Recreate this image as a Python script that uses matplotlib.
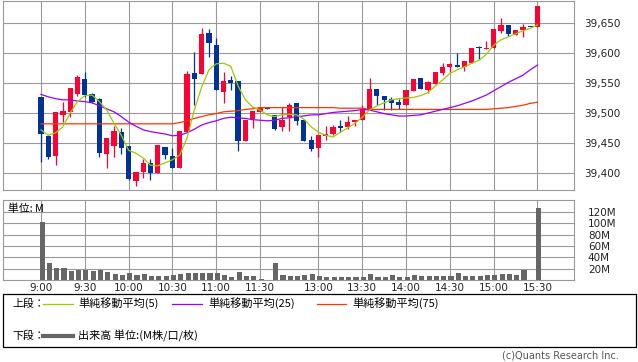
import numpy as np
import matplotlib
matplotlib.use("Agg")
import matplotlib.pyplot as plt
from matplotlib.lines import Line2D
from matplotlib.patches import Rectangle

W, H = 638, 362

# x axis
tick_labels = ["9:00", "9:30", "10:00", "10:30", "11:00", "11:30",
               "13:00", "13:30", "14:00", "14:30", "15:00", "15:30"]
tick_slots = [0, 6, 12, 18, 24, 30, 38, 44, 50, 56, 62, 68]

# 5 min candles
opens = [39527, 39462, 39428, 39497, 39502, 39532, 39557, 39532, 39523, 39432,
         39445, 39468, 39445, 39387, 39402, 39417, 39400, 39443, 39428, 39408,
         39468, 39567, 39565, 39633, 39613, 39535, 39555, 39553, 39453, 39490,
         39502, 39509, 39496, 39476, 39494, 39516, 39488, 39455, 39441, 39462,
         39465, 39478, 39477, 39485, 39489, 39507, 39540, 39528, 39523, 39519,
         39513, 39537, 39559, 39538, 39548, 39566, 39576, 39580, 39577, 39584,
         39610, 39607, 39609, 39637, 39647, 39630, 39639, 39644, 39643]
highs = [39527, 39463, 39502, 39518, 39542, 39563, 39568, 39533, 39525, 39458,
         39478, 39475, 39445, 39402, 39423, 39423, 39447, 39443, 39442, 39470,
         39570, 39602, 39642, 39640, 39625, 39568, 39562, 39553, 39488, 39503,
         39508, 39509, 39496, 39510, 39517, 39517, 39488, 39462, 39463, 39478,
         39480, 39488, 39495, 39489, 39513, 39558, 39540, 39528, 39527, 39524,
         39538, 39557, 39559, 39554, 39569, 39583, 39583, 39600, 39586, 39609,
         39612, 39620, 39640, 39659, 39647, 39638, 39648, 39644, 39679]
lows = [39418, 39423, 39413, 39485, 39493, 39528, 39527, 39517, 39427, 39408,
        39427, 39432, 39388, 39378, 39392, 39388, 39400, 39423, 39408, 39408,
        39468, 39513, 39565, 39593, 39538, 39517, 39538, 39437, 39453, 39475,
        39502, 39507, 39472, 39470, 39470, 39480, 39454, 39436, 39426, 39455,
        39463, 39469, 39473, 39478, 39488, 39507, 39513, 39505, 39505, 39506,
        39513, 39537, 39540, 39534, 39548, 39563, 39569, 39576, 39570, 39584,
        39590, 39607, 39609, 39634, 39629, 39630, 39626, 39643, 39643]
closes = [39465, 39427, 39502, 39503, 39542, 39560, 39530, 39518, 39433, 39458,
          39470, 39442, 39390, 39402, 39417, 39400, 39447, 39430, 39408, 39470,
          39565, 39557, 39632, 39617, 39538, 39553, 39550, 39453, 39488, 39503,
          39508, 39507, 39474, 39488, 39513, 39486, 39454, 39440, 39463, 39465,
          39476, 39475, 39485, 39489, 39505, 39540, 39528, 39522, 39517, 39513,
          39538, 39557, 39540, 39552, 39569, 39576, 39582, 39576, 39586, 39609,
          39608, 39609, 39640, 39647, 39631, 39638, 39643, 39643, 39679]

# moving averages as drawn
sma5 = [39472, 39463, 39467, 39477, 39500, 39519, 39529, 39530, 39519, 39505,
        39483, 39463, 39438, 39433, 39425, 39413, 39412, 39417, 39422, 39430,
        39458, 39505, 39543, 39572, 39582, 39583, 39578, 39545, 39522, 39510,
        39505, 39497, 39494, 39497, 39498, 39497, 39490, 39477, 39468, 39463,
        39460, 39468, 39475, 39483, 39493, 39505, 39512, 39517, 39522, 39524,
        39525, 39526, 39529, 39534, 39545, 39555, 39566, 39572, 39577, 39583,
        39588, 39598, 39613, 39622, 39627, 39632, 39637, 39641, 39647]
sma25 = [39531, 39527, 39524, 39522, 39522, 39520, 39519, 39517, 39512, 39507,
         39502, 39494, 39485, 39478, 39472, 39469, 39467, 39465, 39462, 39463,
         39467, 39473, 39480, 39484, 39487, 39491, 39493, 39492, 39491, 39489,
         39488, 39487, 39488, 39491, 39492, 39494, 39495, 39497, 39497, 39499,
         39501, 39502, 39503, 39504, 39506, 39505, 39502, 39499, 39497, 39495,
         39495, 39496, 39497, 39500, 39503, 39506, 39509, 39512, 39516, 39520,
         39525, 39530, 39537, 39544, 39551, 39557, 39563, 39572, 39580]
sma75 = [39482, 39482, 39482, 39482, 39482, 39482, 39482, 39482, 39482, 39482,
         39482, 39482, 39482, 39482, 39482, 39482, 39482, 39482, 39482, 39484,
         39487, 39491, 39494, 39497, 39499, 39502, 39503, 39504, 39506, 39507,
         39509, 39509, 39509, 39509, 39509, 39509, 39509, 39509, 39509, 39509,
         39509, 39508, 39508, 39508, 39508, 39506, 39506, 39506, 39506, 39506,
         39506, 39506, 39506, 39506, 39506, 39506, 39506, 39506, 39506, 39506,
         39506, 39506, 39507, 39508, 39509, 39511, 39513, 39516, 39518]

# volume, M shares
volume = [101.5, 31, 22, 22, 17, 18.7, 18.7, 17, 18.7, 15.2,
          11.1, 9.4, 12.9, 9.4, 11.1, 7.6, 7.6, 7.6, 9.4, 11.1,
          13.4, 13.4, 12.3, 12.3, 13.4, 9.4, 5.8, 14.6, 7.6, 7.6,
          2.3, 0, 31, 9.4, 7.6, 7.6, 9.4, 11.1, 7.6, 5.3,
          5.3, 5.3, 5.3, 5.3, 5.3, 11.1, 5.3, 5.3, 9.4, 5.3,
          5.3, 9.4, 7.6, 7.6, 7.6, 7.6, 7.6, 12.9, 7.6, 7.6,
          7.6, 9.4, 9.4, 11.1, 11.1, 9.4, 18.2, 0.5, 127]

price_ticks = [39400, 39450, 39500, 39550, 39600, 39650]
vol_ticks = [20, 40, 60, 80, 100, 120]

RED = "#ff0033"
BLUE = "#003399"
GRID = "#999999"
JP = ["Noto Sans CJK JP", "DejaVu Sans"]


def px(x0, y0, w, h):
    # pixel box (top-left origin) -> figure fraction
    return [x0 / W, 1 - (y0 + h) / H, w / W, h / H]


fig = plt.figure(figsize=(W / 100, H / 100), dpi=100)
ax = fig.add_axes(px(3, 0.7, 571, 189.3))
axv = fig.add_axes(px(3, 200, 571, 80.3))

x = np.arange(len(closes))
o = np.array(opens)
c = np.array(closes)
colors = np.where(c >= o, RED, BLUE)

ax.vlines(x, lows, highs, colors=colors, lw=0.9, zorder=3)
ax.bar(x, np.maximum(np.abs(c - o), 1.5), bottom=np.minimum(o, c),
       width=0.72, color=colors, lw=0, zorder=3)
ax.plot(x, sma75, color="#ff3300", lw=0.9, zorder=4)
ax.plot(x, sma25, color="#9900ff", lw=0.9, zorder=4)
ax.plot(x, sma5, color="#99cc00", lw=0.9, zorder=4)

axv.bar(x + 0.15, volume, width=0.7, color="#666666", lw=0, zorder=3)

for a in (ax, axv):
    a.set_xlim(-5.2, 73.0)
    a.set_xticks(tick_slots)
    a.grid(True, color=GRID, lw=0.8)
    a.set_axisbelow(True)
    for s in a.spines.values():
        s.set_color(GRID)
        s.set_linewidth(0.8)
    a.yaxis.tick_right()
    a.tick_params(length=0, labelsize=7.5, colors="#222222")

ax.set_ylim(39371.7, 39687.2)
ax.set_yticks(price_ticks)
ax.set_yticklabels([f"{v:,}" for v in price_ticks])
ax.tick_params(axis="y", pad=7.5)
ax.set_xticklabels([])

axv.set_ylim(0, 140.5)
axv.set_yticks(vol_ticks)
axv.set_yticklabels([f"{v}M" for v in vol_ticks])
axv.tick_params(axis="y", pad=10)
axv.set_xticklabels(tick_labels)
axv.tick_params(axis="x", pad=2)

fig.text(8 / W, 1 - 209 / H, "単位: M", family=JP, fontsize=7.8, va="center")

# legend box
fig.patches.append(Rectangle((3 / W, 1 - 346.7 / H), 633 / W, 52.7 / H,
                             transform=fig.transFigure, fill=False,
                             edgecolor="black", lw=0.9))
row1 = 1 - 303.5 / H
row2 = 1 - 335.5 / H
fig.text(12 / W, row1, "上段：", family=JP, fontsize=7.8, va="center")
fig.text(12 / W, row2, "下段：", family=JP, fontsize=7.8, va="center")
legend_items = [(43, 73, "#99cc00", 78, "単純移動平均(5)"),
                (172, 202, "#9900ff", 208, "単純移動平均(25)"),
                (317, 346, "#ff3300", 352, "単純移動平均(75)")]
for x0, x1, col, tx, label in legend_items:
    fig.add_artist(Line2D([x0 / W, x1 / W], [row1, row1], color=col, lw=0.9))
    fig.text(tx / W, row1, label, family=JP, fontsize=8, va="center")
fig.add_artist(Line2D([43 / W, 73 / W], [row2, row2], color="#666666", lw=3))
fig.text(78 / W, row2, "出来高 単位:(M株/口/枚)", family=JP, fontsize=8, va="center")

fig.text(619 / W, 1 - 356 / H, "(c)Quants Research Inc.", fontsize=7,
         color="#555555", ha="right", va="center")

fig.savefig("out.png", dpi=100)
